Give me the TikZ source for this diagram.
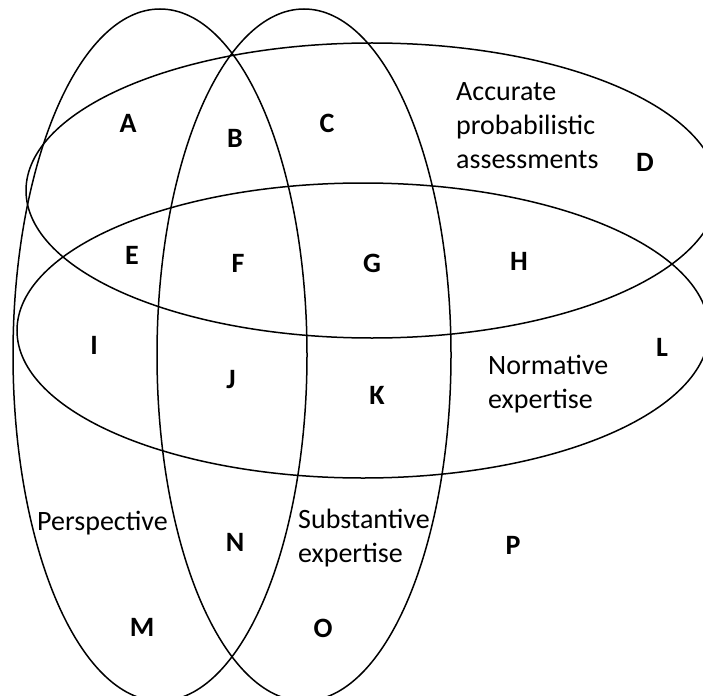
\documentclass[tikz,border=0pt]{standalone}
\usepackage{fontspec}
\setmainfont{Carlito}
\begin{document}
\begin{tikzpicture}[x=1pt,y=-1pt,
  setline/.style={draw=black,line width=1.5pt},
  lbl/.style={font=\fontsize{28}{33.6}\selectfont\bfseries, inner sep=0pt},
  setname/.style={font=\fontsize{28}{33.6}\selectfont, inner sep=0pt, align=left, anchor=base west}]
\useasboundingbox (0,0) rectangle (703,695);
\clip (0,0) rectangle (703,695);
% vertical sets
\draw[setline] (160,355) ellipse [x radius=147pt, y radius=346pt];
\draw[setline] (304,355) ellipse [x radius=147pt, y radius=346pt];
% horizontal sets
\draw[setline] (372,190.5) ellipse [x radius=346pt, y radius=147.5pt];
\draw[setline] (363,330.5) ellipse [x radius=346pt, y radius=147.5pt];
% set names (base anchor = baseline of last line)
\node[setname] (acc) at (456,168) {Accurate\\probabilistic\\assessments};
\node[setname] (norm) at (488,408) {Normative\\expertise};
\node[setname] (persp) at (37,530) {Perspective};
\node[setname] (subst) at (298,562) {Substantive\\expertise};
% region labels
\node[lbl] (A) at (128,123) {A};
\node[lbl] (B) at (235,138) {B};
\node[lbl] (C) at (327,123) {C};
\node[lbl] (D) at (645,162) {D};
\node[lbl] (E) at (132,255) {E};
\node[lbl] (F) at (238,263) {F};
\node[lbl] (G) at (372,263) {G};
\node[lbl] (H) at (519,261) {H};
\node[lbl] (I) at (94,345) {I};
\node[lbl] (J) at (231,380) {J};
\node[lbl] (K) at (377,395) {K};
\node[lbl] (L) at (662,347) {L};
\node[lbl] (M) at (142,627) {M};
\node[lbl] (N) at (235,542) {N};
\node[lbl] (O) at (323,628) {O};
\node[lbl] (P) at (513,545) {P};
\end{tikzpicture}
\end{document}
